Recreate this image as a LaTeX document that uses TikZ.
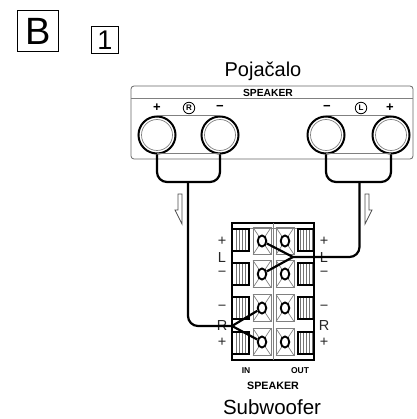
\documentclass[tikz,border=0pt]{standalone}
\usepackage{fontspec}
\setmainfont{Liberation Sans}
\usetikzlibrary{calc,positioning,shapes.geometric}
\tikzset{
    cable/.style={line width=2.2pt,rounded corners=10pt},
    jack/.style={circle,draw,line width=2pt,minimum size=37pt,inner sep=0pt},
    post/.style={ellipse,draw,fill=white,line width=1.9pt,minimum width=8.5pt,minimum height=11pt,inner sep=0pt},
    thin grey/.style={draw=black!50,line width=0.7pt},
    pole/.style={inner sep=0pt,font=\fontsize{13}{13}\selectfont\bfseries},
    sign/.style={inner sep=0pt,text=black!85,font=\fontsize{14.5}{14}\selectfont},
    letter/.style={inner sep=0pt,text=black!85,font=\fontsize{14.5}{14}\selectfont},
    hollow/.style={draw=black!70,line width=0.8pt,fill=white}
}
\begin{document}
\begin{tikzpicture}[x=1pt,y=-1pt]
        \useasboundingbox (0,0) rectangle (416,419);

        % marks in the corner
        \node[draw,line width=1.5pt,minimum size=41pt,inner sep=0pt,font=\fontsize{38}{38}\selectfont] (mainmark) at (38,31) {B};
        \node[draw,line width=1.3pt,minimum width=27pt,minimum height=27pt,inner sep=0pt,font=\fontsize{27}{27}\selectfont] (submark) at (105,40) {1};

        % amplifier
        \node[font=\fontsize{20}{20}\selectfont] (amp) at (263,71) {Pojačalo};
        \draw[draw=black!60,line width=0.8pt,rounded corners=3pt] (131,86) rectangle (413,159);
        \draw[draw=black!50,line width=1pt] (131,99) -- (413,99);
        \node[font=\fontsize{10.3}{10}\selectfont\bfseries] (ampspeaker) at (268,93) {SPEAKER};
        \foreach \v/\x in {jackA/157,jackB/220,jackC/326,jackD/391}
        {
            \node[jack] (\v) at (\x,135) {};
            \draw[thin grey] (\v) circle (15.5);
        };
        \draw[thin grey] (jackA) ++(0,-20) -- ($(jackB)+(0,-20)$);
        \draw[thin grey] (jackC) ++(0,-20) -- ($(jackD)+(0,-20)$);
        \draw[thin grey] (jackA) ++(0,18) -- ($(jackB)+(0,18)$);
        \draw[thin grey] (jackC) ++(0,18) -- ($(jackD)+(0,18)$);
        \foreach \v/\x/\t in {ampA/157/+,ampB/220/−,ampC/327/−,ampD/390/+}
        {
            \node[pole] (\v) at (\x,107.5) {\t};
        };
        \foreach \v/\x/\t in {ampR/189/R,ampL/361/L}
        {
            \node[circle,draw,line width=0.8pt,minimum size=11.5pt,inner sep=0pt,font=\fontsize{8}{8}\selectfont\bfseries] (\v) at (\x,108) {\t};
        };

        % subwoofer
        \draw[line width=1.6pt] (232,223) rectangle (314,360);
        \draw[thin grey] (232,228) -- (314,228);
        \draw[thin grey] (273,223) -- (273,360);
        \foreach \y in {229,263,297,332}
        {
            \foreach \h in {236,239,...,248}
            {
                \draw[draw=black!55,line width=0.5pt] (\h,\y) -- (\h,\y+22);
                \draw[draw=black!55,line width=0.5pt] (\h+64,\y) -- (\h+64,\y+22);
            };
            \draw[line width=1.4pt] (232,\y) -| (249,\y+22) -- (232,\y+22);
            \draw[line width=1.4pt] (314,\y) -| (298,\y+22) -- (314,\y+22);
        };
        \foreach \y/\n in {241/A,274/B,308/C,342/D}
        {
            \foreach \x/\c in {262/I,285/O}
            {
                \draw[thin grey] (\x-9,\y-13.5) rectangle (\x+9,\y+13.5);
                \draw[thin grey] (\x-9,\y-13.5) -- (\x+9,\y+13.5);
                \draw[thin grey] (\x+9,\y-13.5) -- (\x-9,\y+13.5);
                \node[post] (post\c\n) at (\x,\y) {};
            };
        };
        \foreach \x/\s in {222/a,324/b}
        {
            \node[sign] (plusL\s) at (\x,241) {+};
            \node[letter] (chanL\s) at (\x,258) {L};
            \node[sign] (minusL\s) at (\x,274) {−};
            \node[sign] (minusR\s) at (\x,308) {−};
            \node[letter] (chanR\s) at (\x,325.5) {R};
            \node[sign] (plusR\s) at (\x,342) {+};
        };
        \node[font=\fontsize{8.5}{8}\selectfont\bfseries] (inlabel) at (246,371) {IN};
        \node[font=\fontsize{8.5}{8}\selectfont\bfseries] (outlabel) at (300,371) {OUT};
        \node[font=\fontsize{10.7}{10}\selectfont\bfseries] (subspeaker) at (273,386) {SPEAKER};
        \node[font=\fontsize{20.5}{20}\selectfont] (sub) at (272,407) {Subwoofer};

        % cables
        \coordinate (busR) at (188,182);
        \coordinate (busL) at (359.5,182);
        \coordinate (joinR) at (232,326);
        \coordinate (joinL) at (293,257);
        \draw[cable] (jackA.south) |- (busR) -| (jackB.south);
        \draw[cable] (jackC.south) |- (busL) -| (jackD.south);
        \draw[cable] (busR) |- (joinR);
        \draw[cable] (busL) |- (joinL);
        \draw[line width=2.2pt] (postIC) -- (joinR) -- (postID);
        \draw[line width=2.2pt] (postIA) -- (joinL) -- (postIB);

        % direction arrows
        \draw[hollow] (178,194) -- (182,194) -- (182,224) -- (175,210) -- (178,210) -- cycle;
        \draw[hollow] (369,194) -- (365,194) -- (365,224) -- (372,210) -- (369,210) -- cycle;
\end{tikzpicture}
\end{document}
